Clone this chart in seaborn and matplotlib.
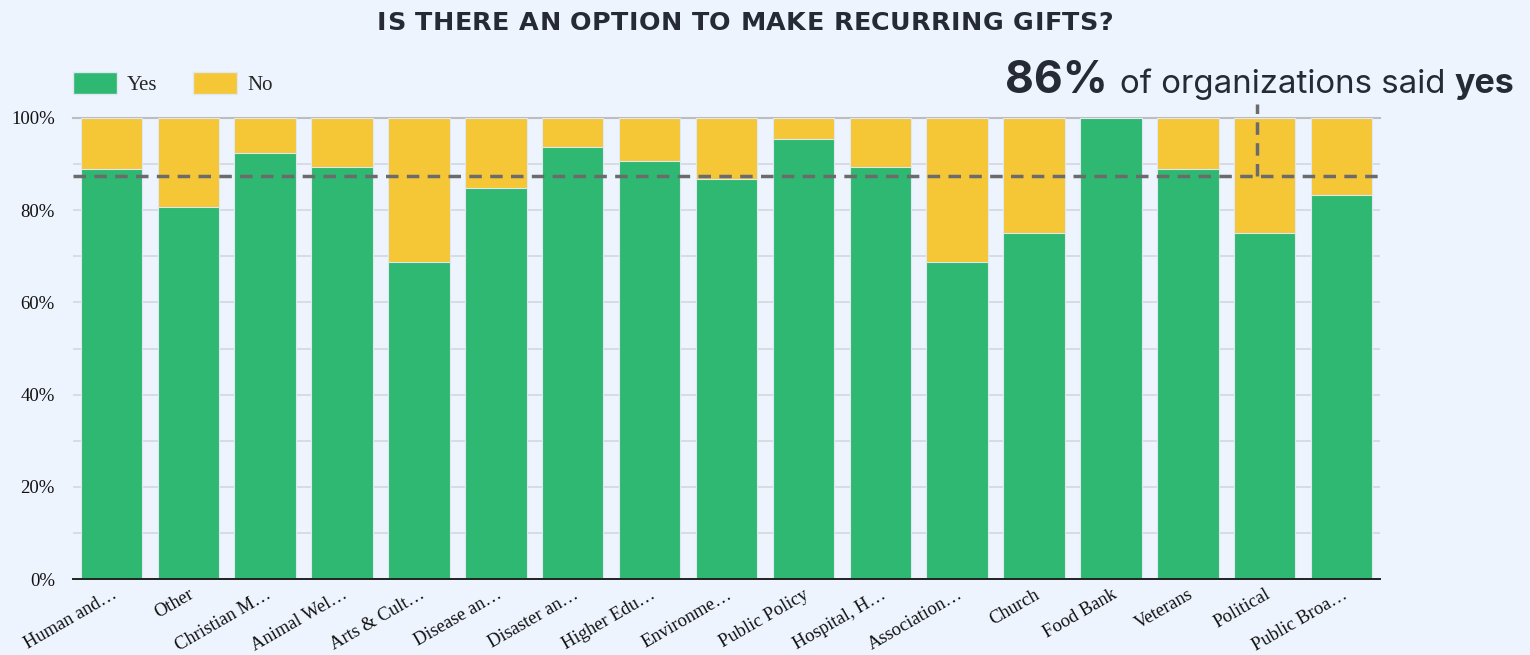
import matplotlib
matplotlib.use("Agg")
import matplotlib.pyplot as plt
import seaborn as sns
import pandas as pd
from matplotlib.patches import Patch
from matplotlib.ticker import MultipleLocator, FuncFormatter
from matplotlib.font_manager import FontProperties

categories = ["Human and…", "Other", "Christian M…", "Animal Wel…", "Arts & Cult…",
              "Disease an…", "Disaster an…", "Higher Edu…", "Environme…", "Public Policy",
              "Hospital, H…", "Association…", "Church", "Food Bank", "Veterans",
              "Political", "Public Broa…"]
yes_pct = [88.9, 80.8, 92.3, 89.3, 68.75, 84.8, 93.8, 90.6, 86.7, 95.5,
           89.3, 68.75, 75.0, 100.0, 88.9, 75.0, 83.3]
no_pct = [100 - v for v in yes_pct]
average_yes = 87.4
title = "IS THERE AN OPTION TO MAKE RECURRING GIFTS?"

GREEN = "#2eb872"
YELLOW = "#f5c636"
BG = "#edf4fe"
DARK = "#262a33"
W, H = 1530, 655

df = pd.DataFrame({"category": categories, "yes": yes_pct,
                   "total": [y + n for y, n in zip(yes_pct, no_pct)]})

sns.set_theme(style="white")
plt.rcParams["font.family"] = ["Liberation Serif", "DejaVu Serif"]

fig = plt.figure(figsize=(15.3, 6.55), dpi=100, facecolor=BG)
ax = fig.add_axes([73 / W, 1 - 579 / H, (1380 - 73) / W, (579 - 118) / H])
ax.set_facecolor(BG)

sns.barplot(data=df, x="category", y="total", color=YELLOW, saturation=1,
            width=0.8, ax=ax, edgecolor="#dfe8f0", linewidth=0.8, zorder=2)
sns.barplot(data=df, x="category", y="yes", color=GREEN, saturation=1,
            width=0.8, ax=ax, edgecolor="#dfe8f0", linewidth=0.8, zorder=3)

ax.set_ylim(0, 100)
ax.set_xlim(-0.5, len(categories) - 0.5)
ax.yaxis.set_major_locator(MultipleLocator(20))
ax.yaxis.set_minor_locator(MultipleLocator(10))
ax.yaxis.set_major_formatter(FuncFormatter(lambda v, p: f"{int(v)}%"))
ax.grid(axis="y", which="both", color="#d6dadf", linewidth=1.3, zorder=0)
ax.set_axisbelow(True)
for s in ["right", "left"]:
    ax.spines[s].set_visible(False)
ax.spines["top"].set_color("#bdbdbd")
ax.spines["top"].set_linewidth(1.5)
ax.spines["top"].set_zorder(1)
ax.spines["bottom"].set_color("#222222")
ax.spines["bottom"].set_linewidth(1.4)
ax.spines["bottom"].set_zorder(5)
ax.set_xlabel("")
ax.set_ylabel("")
ax.tick_params(axis="y", which="both", length=0, labelsize=13.5, pad=13, labelcolor="#111111")
ax.tick_params(axis="x", length=0, labelsize=13.3, pad=5, labelcolor="#111111")
plt.setp(ax.get_xticklabels(), rotation=30, ha="right", rotation_mode="anchor")

# average line
dash = (0, (3.6, 2.4))
ax.axhline(average_yes, color="#6b6b6b", linestyle=dash, linewidth=2.5, zorder=4)
ax.plot([14.9, 14.9], [average_yes, 103], color="#6b6b6b", linestyle=dash,
        linewidth=2.5, zorder=4, clip_on=False)

# legend
handles = [Patch(facecolor=GREEN, edgecolor="#dfe8f0", label="Yes"),
           Patch(facecolor=YELLOW, edgecolor="#dfe8f0", label="No")]
fig.legend(handles=handles, loc="upper left", bbox_to_anchor=(73 / W, 1 - 72 / H),
           ncol=2, frameon=False, fontsize=15, handlelength=2.1, handleheight=1.25,
           columnspacing=1.7, handletextpad=0.5, borderpad=0, borderaxespad=0)

fig.canvas.draw()
r = fig.canvas.get_renderer()

# title with letter spacing
tprops = FontProperties(family="DejaVu Sans", weight="bold", size=18.3)
widths = [r.get_text_width_height_descent(ch, tprops, ismath=False)[0] for ch in title]
target_w = 1113 - 377
spacing = (target_w - sum(widths)) / (len(title) - 1)
x = 745 - target_w / 2
for ch, w in zip(title, widths):
    if ch != " ":
        fig.text(x / W, 1 - 23 / H, ch, ha="left", va="center", fontproperties=tprops,
                 color=DARK)
    x += w + spacing

# annotation
sans = ["Inter", "DejaVu Sans"]
t1 = fig.text(1108 / W, 1 - 93 / H, "86%", ha="right", va="baseline", fontsize=32,
              fontweight="bold", color=DARK, family=sans)
fig.canvas.draw()
x_next = t1.get_window_extent(r).x1 + 12
t2 = fig.text(x_next / W, 1 - 93 / H, "of organizations said", ha="left", va="baseline",
              fontsize=23.8, color=DARK, family=sans)
fig.canvas.draw()
x_next = t2.get_window_extent(r).x1 + 9
fig.text(x_next / W, 1 - 93 / H, "yes", ha="left", va="baseline", fontsize=24.5,
         fontweight="bold", color=DARK, family=sans)

fig.savefig("out.png", dpi=100, facecolor=BG)
